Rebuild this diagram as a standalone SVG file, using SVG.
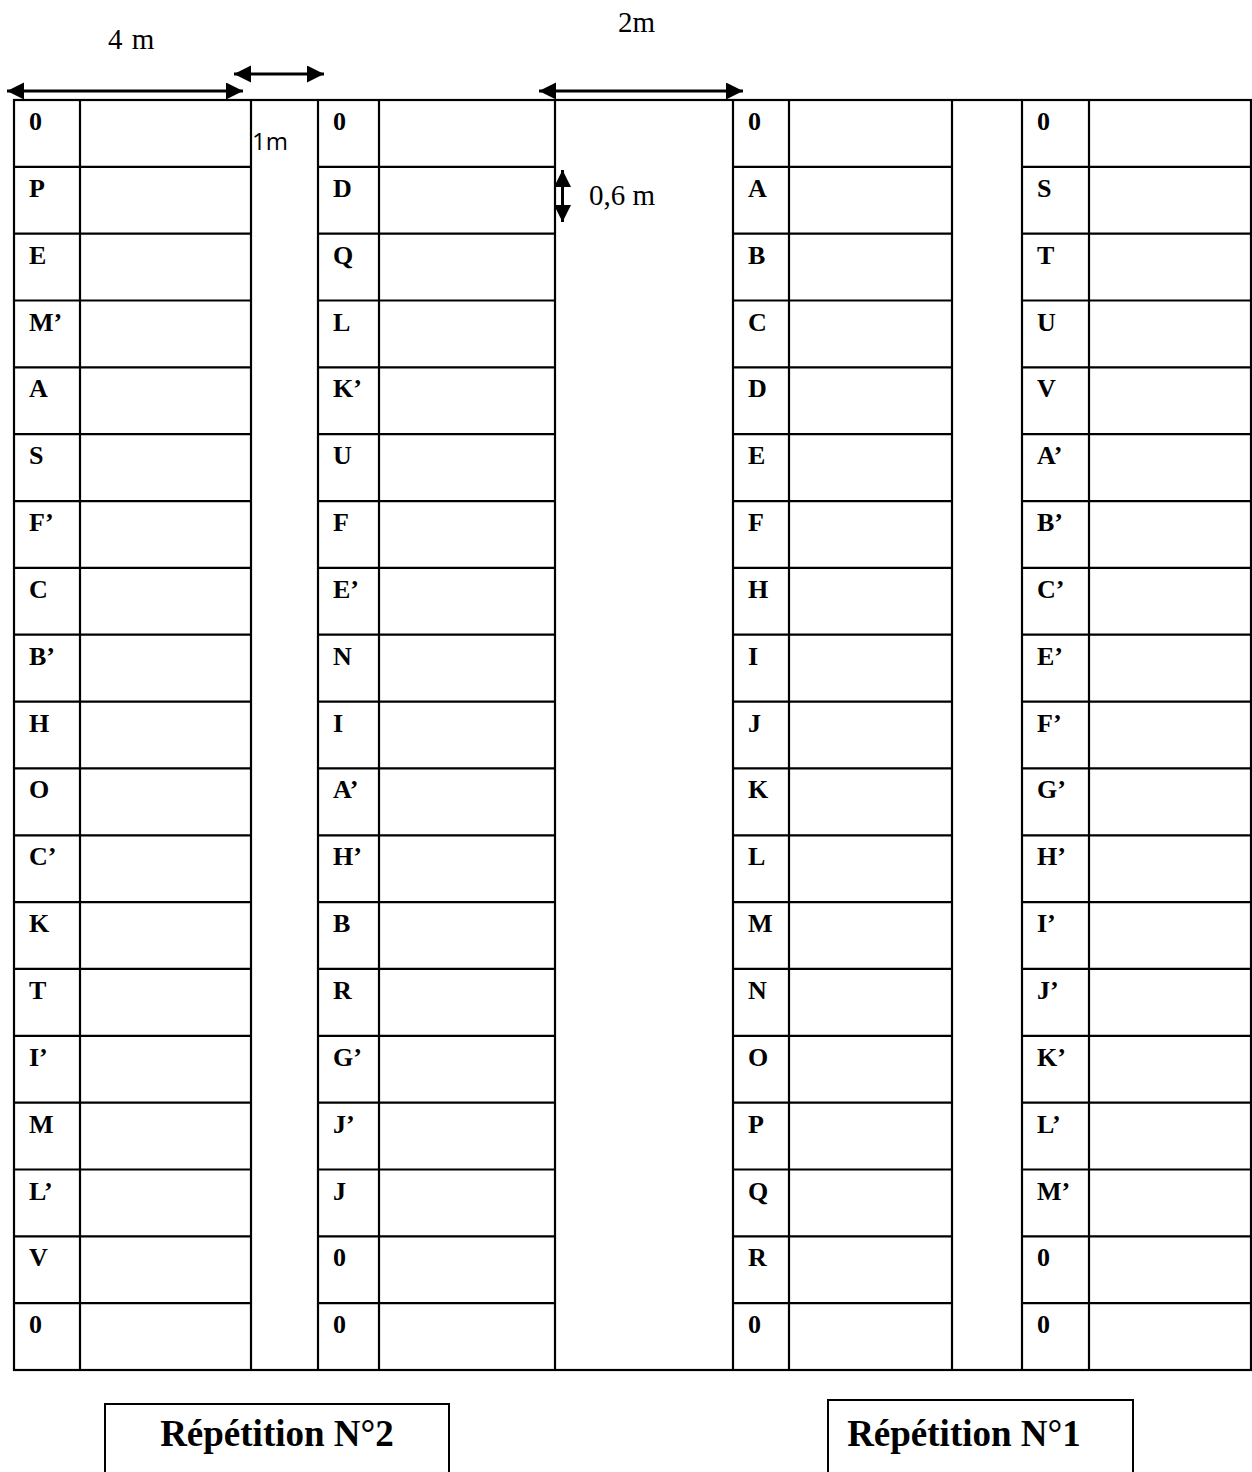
<svg xmlns="http://www.w3.org/2000/svg" width="1252" height="1472" viewBox="0 0 1252 1472">
<style>
.grid{fill:none;stroke:#000;stroke-width:2.2}
.lbl{font-family:"Liberation Serif","Times New Roman",serif;font-weight:bold;font-size:26px;fill:#000}
.dim{font-family:"Liberation Serif","Times New Roman",serif;font-size:29px;fill:#000}
.dimsans{font-family:"Open Sans","Liberation Sans",sans-serif;font-size:24px;fill:#000}
.arr{stroke:#000;stroke-width:3;fill:none;marker-start:url(#ah);marker-end:url(#ah)}
.rep{font-family:"Liberation Serif","Times New Roman",serif;font-weight:bold;font-size:37px;fill:#000}
.box{fill:#fff;stroke:#000;stroke-width:2}
</style>
<defs>
<marker id="ah" markerUnits="userSpaceOnUse" markerWidth="18" markerHeight="18" refX="17" refY="8.5" orient="auto-start-reverse" viewBox="0 0 18 18">
<path d="M0,0 L17,8.5 L0,17 z" fill="#000"/>
</marker>
</defs>
<rect width="1252" height="1472" fill="#fff"/>

<g id="grid">
<rect class="grid" x="14" y="100" width="1237" height="1270"/>
<path class="grid" d="M80 100V1370M251 100V1370M318 100V1370M379 100V1370M555 100V1370M733 100V1370M789 100V1370M952 100V1370M1022 100V1370M1089 100V1370"/>
<path class="grid" d="M14 166.8H251M14 233.7H251M14 300.5H251M14 367.4H251M14 434.2H251M14 501.1H251M14 567.9H251M14 634.7H251M14 701.6H251M14 768.4H251M14 835.3H251M14 902.1H251M14 968.9H251M14 1035.8H251M14 1102.6H251M14 1169.5H251M14 1236.3H251M14 1303.2H251"/>
<path class="grid" d="M318 166.8H555M318 233.7H555M318 300.5H555M318 367.4H555M318 434.2H555M318 501.1H555M318 567.9H555M318 634.7H555M318 701.6H555M318 768.4H555M318 835.3H555M318 902.1H555M318 968.9H555M318 1035.8H555M318 1102.6H555M318 1169.5H555M318 1236.3H555M318 1303.2H555"/>
<path class="grid" d="M733 166.8H952M733 233.7H952M733 300.5H952M733 367.4H952M733 434.2H952M733 501.1H952M733 567.9H952M733 634.7H952M733 701.6H952M733 768.4H952M733 835.3H952M733 902.1H952M733 968.9H952M733 1035.8H952M733 1102.6H952M733 1169.5H952M733 1236.3H952M733 1303.2H952"/>
<path class="grid" d="M1022 166.8H1251M1022 233.7H1251M1022 300.5H1251M1022 367.4H1251M1022 434.2H1251M1022 501.1H1251M1022 567.9H1251M1022 634.7H1251M1022 701.6H1251M1022 768.4H1251M1022 835.3H1251M1022 902.1H1251M1022 968.9H1251M1022 1035.8H1251M1022 1102.6H1251M1022 1169.5H1251M1022 1236.3H1251M1022 1303.2H1251"/>
</g>

<g id="col1" class="lbl">
<text x="29" y="130">0</text>
<text x="29" y="196.8">P</text>
<text x="29" y="263.7">E</text>
<text x="29" y="330.5">M’</text>
<text x="29" y="397.4">A</text>
<text x="29" y="464.2">S</text>
<text x="29" y="531.1">F’</text>
<text x="29" y="597.9">C</text>
<text x="29" y="664.7">B’</text>
<text x="29" y="731.6">H</text>
<text x="29" y="798.4">O</text>
<text x="29" y="865.3">C’</text>
<text x="29" y="932.1">K</text>
<text x="29" y="998.9">T</text>
<text x="29" y="1065.8">I’</text>
<text x="29" y="1132.6">M</text>
<text x="29" y="1199.5">L’</text>
<text x="29" y="1266.3">V</text>
<text x="29" y="1333.2">0</text>
</g>

<g id="col2" class="lbl">
<text x="333" y="130">0</text>
<text x="333" y="196.8">D</text>
<text x="333" y="263.7">Q</text>
<text x="333" y="330.5">L</text>
<text x="333" y="397.4">K’</text>
<text x="333" y="464.2">U</text>
<text x="333" y="531.1">F</text>
<text x="333" y="597.9">E’</text>
<text x="333" y="664.7">N</text>
<text x="333" y="731.6">I</text>
<text x="333" y="798.4">A’</text>
<text x="333" y="865.3">H’</text>
<text x="333" y="932.1">B</text>
<text x="333" y="998.9">R</text>
<text x="333" y="1065.8">G’</text>
<text x="333" y="1132.6">J’</text>
<text x="333" y="1199.5">J</text>
<text x="333" y="1266.3">0</text>
<text x="333" y="1333.2">0</text>
</g>

<g id="col3" class="lbl">
<text x="748" y="130">0</text>
<text x="748" y="196.8">A</text>
<text x="748" y="263.7">B</text>
<text x="748" y="330.5">C</text>
<text x="748" y="397.4">D</text>
<text x="748" y="464.2">E</text>
<text x="748" y="531.1">F</text>
<text x="748" y="597.9">H</text>
<text x="748" y="664.7">I</text>
<text x="748" y="731.6">J</text>
<text x="748" y="798.4">K</text>
<text x="748" y="865.3">L</text>
<text x="748" y="932.1">M</text>
<text x="748" y="998.9">N</text>
<text x="748" y="1065.8">O</text>
<text x="748" y="1132.6">P</text>
<text x="748" y="1199.5">Q</text>
<text x="748" y="1266.3">R</text>
<text x="748" y="1333.2">0</text>
</g>

<g id="col4" class="lbl">
<text x="1037" y="130">0</text>
<text x="1037" y="196.8">S</text>
<text x="1037" y="263.7">T</text>
<text x="1037" y="330.5">U</text>
<text x="1037" y="397.4">V</text>
<text x="1037" y="464.2">A’</text>
<text x="1037" y="531.1">B’</text>
<text x="1037" y="597.9">C’</text>
<text x="1037" y="664.7">E’</text>
<text x="1037" y="731.6">F’</text>
<text x="1037" y="798.4">G’</text>
<text x="1037" y="865.3">H’</text>
<text x="1037" y="932.1">I’</text>
<text x="1037" y="998.9">J’</text>
<text x="1037" y="1065.8">K’</text>
<text x="1037" y="1132.6">L’</text>
<text x="1037" y="1199.5">M’</text>
<text x="1037" y="1266.3">0</text>
<text x="1037" y="1333.2">0</text>
</g>

<g id="connectors">
<line class="arr" x1="7" y1="91" x2="243" y2="91"/>
<line class="arr" x1="234" y1="74" x2="324" y2="74"/>
<line class="arr" x1="539" y1="91" x2="743" y2="91"/>
<line class="arr" x1="562.5" y1="170" x2="562.5" y2="222"/>
</g>

<g id="dimensions">
<text class="dim" x="108" y="49" word-spacing="2">4 m</text>
<text class="dim" x="618" y="32">2m</text>
<text class="dimsans" x="252" y="150">1m</text>
<text class="dim" x="589" y="205">0,6 m</text>
</g>

<g id="rep2">
<rect class="box" x="105" y="1404" width="344" height="90"/>
<text class="rep" x="277" y="1446" text-anchor="middle">Répétition N°2</text>
</g>
<g id="rep1">
<rect class="box" x="828" y="1400" width="305" height="90"/>
<text class="rep" x="964" y="1446" text-anchor="middle">Répétition N°1</text>
</g>
</svg>
